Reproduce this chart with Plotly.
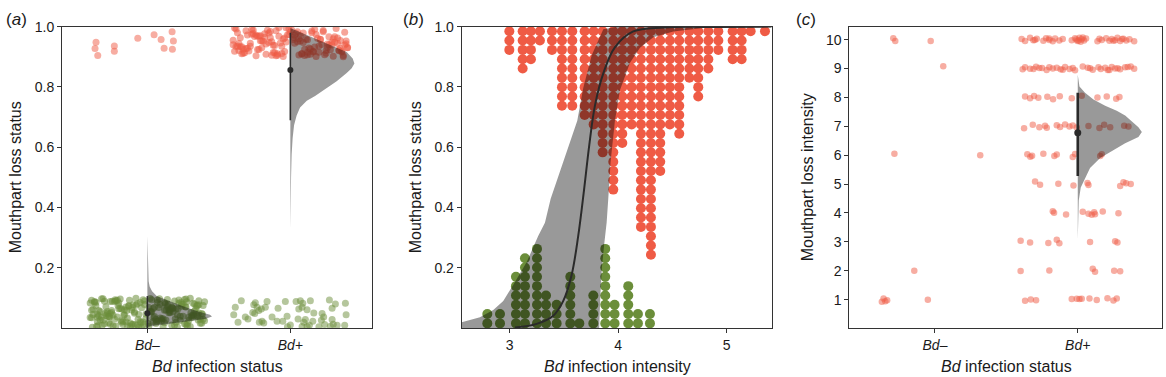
import plotly.graph_objects as go

FONT = "Liberation Sans, Arial, Helvetica, sans-serif"
RED = "#EF5B45"
GREEN = "#6B8E3A"
SHADE = "rgba(0,0,0,0.4)"
INK = "#2a2a2a"
AXIS = "#333333"

# ---------------- categories / ticks ----------------
cat_pos = [1, 2]
cat_text = ["<i>Bd–</i>", "<i>Bd+</i>"]
status_ticks = [0.2, 0.4, 0.6, 0.8, 1.0]
status_ticktext = ["0.2", "0.4", "0.6", "0.8", "1.0"]
intensity_ticks = [3, 4, 5]
loss_ticks = [1, 2, 3, 4, 5, 6, 7, 8, 9, 10]

# ---------------- panel (a) data ----------------
# Bd- uninfected, no mouthpart loss (green), jitter offsets around category 1
a_neg_green_dx = [-0.38, 0.12, -0.05, 0.31, -0.22, 0.07, 0.39, -0.29, 0.18, -0.11, 0.25, -0.35, 0.02, -0.17, 0.34,
                  -0.01, 0.21, -0.26, 0.09, -0.39, 0.28, -0.08, 0.15, -0.31, 0.36, -0.14, 0.05, -0.24, 0.22, -0.03,
                  0.33, -0.19, 0.11, -0.36, 0.27, -0.09, 0.40, -0.27, 0.16, -0.12, 0.03, -0.33, 0.24, -0.06, 0.37,
                  -0.20, 0.13, -0.40, 0.30, -0.15, 0.08, -0.25, 0.19, -0.02, 0.35, -0.30, 0.10, -0.18, 0.26, -0.07,
                  0.38, -0.23, 0.14, -0.34, 0.01, -0.13, 0.29, -0.37, 0.20, -0.04, 0.32, -0.21, 0.06, -0.28, 0.17,
                  -0.10, 0.23, -0.32, 0.04, -0.16, 0.36, -0.26, 0.12, -0.39, 0.27, -0.06, 0.19, -0.35, 0.08, -0.19,
                  0.33, -0.12, 0.02, -0.29, 0.22, -0.01, 0.39, -0.24, 0.15, -0.37, 0.29, -0.09, 0.06, -0.31, 0.25,
                  -0.15, 0.11, -0.40, 0.34, -0.05, 0.18, -0.22, 0.31, -0.17, 0.09, -0.33, 0.37, -0.03, 0.21, -0.27,
                  0.14, -0.11, 0.28, -0.36, 0.05, -0.20, 0.40, -0.08, 0.16, -0.30, 0.24, -0.14, 0.01, -0.38, 0.30,
                  -0.02, 0.13, -0.25, 0.35, -0.18, 0.07, -0.34, 0.20, -0.07, 0.26, -0.28, 0.10, -0.13, 0.38, -0.23,
                  0.03, -0.32, 0.17, -0.04, 0.32, -0.16, 0.23, -0.39, 0.12, -0.10, 0.36, -0.21, 0.04, -0.35, 0.27,
                  -0.26, -0.315, 0.045, 0.265, -0.085, 0.155, -0.245, 0.355, -0.165, 0.085, -0.355, 0.215, -0.045,
                  0.125, -0.275, 0.305, -0.125, 0.005, -0.205, 0.385, -0.065, 0.175, -0.385, 0.235, -0.145, 0.065,
                  -0.225, 0.325, -0.025, 0.145, -0.295, 0.195, -0.105, 0.275, -0.345, 0.025, -0.185, 0.345, -0.265]
a_neg_green_y = [0.062, 0.018, 0.085, 0.041, 0.007, 0.093, 0.029, 0.071, 0.054, 0.012, 0.079, 0.036, 0.098, 0.023,
                 0.066, 0.047, 0.004, 0.088, 0.033, 0.059, 0.015, 0.076, 0.051, 0.026, 0.091, 0.008, 0.069, 0.043,
                 0.082, 0.020, 0.057, 0.096, 0.031, 0.074, 0.011, 0.049, 0.087, 0.038, 0.064, 0.005, 0.094, 0.027,
                 0.072, 0.045, 0.016, 0.083, 0.060, 0.035, 0.099, 0.021, 0.068, 0.052, 0.009, 0.078, 0.040, 0.089,
                 0.025, 0.063, 0.014, 0.081, 0.048, 0.030, 0.095, 0.058, 0.006, 0.073, 0.037, 0.086, 0.019, 0.067,
                 0.044, 0.092, 0.028, 0.055, 0.010, 0.077, 0.039, 0.097, 0.022, 0.061, 0.050, 0.013, 0.084, 0.034,
                 0.070, 0.003, 0.090, 0.046, 0.024, 0.065, 0.080, 0.017, 0.056, 0.042, 0.093, 0.032, 0.075, 0.008,
                 0.061, 0.088, 0.026, 0.053, 0.015, 0.097, 0.039, 0.070, 0.004, 0.083, 0.047, 0.022, 0.066, 0.091,
                 0.035, 0.012, 0.078, 0.055, 0.029, 0.094, 0.043, 0.018, 0.072, 0.060, 0.007, 0.086, 0.038, 0.064,
                 0.024, 0.099, 0.051, 0.014, 0.080, 0.033, 0.068, 0.045, 0.005, 0.090, 0.027, 0.058, 0.076, 0.019,
                 0.085, 0.041, 0.063, 0.010, 0.095, 0.049, 0.031, 0.074, 0.016, 0.088, 0.054, 0.036, 0.069, 0.002,
                 0.082, 0.044, 0.025, 0.092, 0.059, 0.013, 0.077, 0.037, 0.065, 0.021, 0.096, 0.048, 0.009,
                 0.034, 0.071, 0.011, 0.056, 0.089, 0.027, 0.043, 0.097, 0.006, 0.064, 0.018, 0.081, 0.039, 0.052,
                 0.092, 0.015, 0.075, 0.046, 0.029, 0.067, 0.003, 0.086, 0.058, 0.022, 0.094, 0.041, 0.012, 0.079,
                 0.049, 0.031, 0.068, 0.087, 0.008, 0.053, 0.024, 0.073, 0.037, 0.095]
# Bd+ infected, no mouthpart loss (green), offsets around category 2
a_pos_green_dx = [-0.343, -0.385, -0.396, -0.366, -0.315, -0.296, -0.256, -0.245, -0.233, -0.221, -0.263, -0.249,
                  -0.203, -0.175, -0.163, -0.217, -0.198, -0.186, -0.128, -0.093, -0.086, -0.053, -0.035, -0.023,
                  0.040, 0.070, 0.087, 0.082, 0.059, 0.117, 0.140, 0.105, 0.054, 0.094, 0.133, 0.157, 0.164, 0.222,
                  0.233, 0.217, 0.273, 0.292, 0.315, 0.292, 0.327, 0.385, 0.390, 0.380, 0.117, 0.082, 0.280, 0.200,
                  0.240, -0.020, 0.000, 0.300]
a_pos_green_y = [0.091, 0.069, 0.044, 0.019, 0.037, 0.030, 0.077, 0.084, 0.069, 0.058, 0.052, 0.048, 0.063, 0.069,
                 0.088, 0.019, 0.023, 0.017, 0.037, 0.023, 0.066, 0.023, 0.088, 0.039, 0.088, 0.091, 0.082, 0.069,
                 0.063, 0.061, 0.091, 0.028, 0.030, 0.019, 0.009, 0.023, 0.050, 0.048, 0.037, 0.026, 0.093, 0.066,
                 0.080, 0.028, 0.009, 0.082, 0.044, 0.009, 0.005, 0.005, 0.006, 0.004, 0.012, 0.004, 0.010, 0.013]
# Bd+ infected, mouthpart loss (red), offsets around category 2
a_pos_red_dx = [0.21, -0.33, 0.05, -0.12, 0.37, -0.24, 0.14, -0.39, 0.29, -0.04, 0.09, -0.28, 0.33, -0.17, 0.01,
                -0.36, 0.25, -0.08, 0.18, -0.21, 0.40, -0.31, 0.12, -0.01, 0.27, -0.14, 0.06, -0.38, 0.35, -0.19,
                0.16, -0.26, 0.03, -0.10, 0.31, -0.35, 0.23, -0.06, 0.11, -0.23, 0.38, -0.15, 0.08, -0.30, 0.20,
                -0.03, 0.34, -0.40, 0.13, -0.18, 0.26, -0.09, 0.02, -0.27, 0.36, -0.13, 0.17, -0.37, 0.30, -0.05,
                0.10, -0.22, 0.39, -0.32, 0.15, -0.11, 0.24, -0.02, 0.07, -0.29, 0.32, -0.20, 0.19, -0.34, 0.04,
                -0.07, 0.28, -0.16, 0.12, -0.38, 0.37, -0.25, 0.22, -0.12, 0.00, -0.31, 0.35, -0.08, 0.14, -0.21,
                0.29, -0.36, 0.06, -0.14, 0.25, -0.03, 0.40, -0.27, 0.10, -0.18, 0.33, -0.39, 0.17, -0.06, 0.21,
                -0.24, 0.03, -0.33, 0.31, -0.10, 0.08, -0.20, 0.38, -0.15, 0.16, -0.35, 0.26, -0.01, 0.12, -0.28,
                0.34, -0.23, 0.05, -0.11, 0.23, -0.37, 0.30, -0.05, 0.18, -0.30, 0.02, -0.17, 0.36, -0.26, 0.09,
                -0.09, 0.27, -0.34, 0.15, -0.13, 0.39, -0.22, 0.07, -0.40, 0.20, -0.04]
a_pos_red_y = [0.957, 0.912, 0.983, 0.938, 0.904, 0.971, 0.926, 0.995, 0.948, 0.917, 0.979, 0.935, 0.962, 0.908,
               0.989, 0.944, 0.921, 0.968, 0.901, 0.953, 0.931, 0.986, 0.915, 0.974, 0.940, 0.963, 0.906, 0.992,
               0.928, 0.951, 0.918, 0.977, 0.945, 0.903, 0.966, 0.933, 0.987, 0.911, 0.958, 0.924, 0.981, 0.947,
               0.909, 0.972, 0.936, 0.996, 0.920, 0.955, 0.929, 0.976, 0.942, 0.905, 0.964, 0.990, 0.916, 0.950,
               0.932, 0.980, 0.902, 0.959, 0.925, 0.969, 0.943, 0.913, 0.985, 0.937, 0.907, 0.973, 0.952, 0.919,
               0.994, 0.930, 0.961, 0.910, 0.978, 0.946, 0.923, 0.988, 0.956, 0.934, 0.900, 0.967, 0.941, 0.914,
               0.982, 0.927, 0.954, 0.997, 0.908, 0.970, 0.939, 0.921, 0.960, 0.984, 0.912, 0.949, 0.930, 0.975,
               0.904, 0.965, 0.944, 0.918, 0.991, 0.935, 0.958, 0.903, 0.971, 0.926, 0.948, 0.986, 0.911, 0.953,
               0.939, 0.979, 0.916, 0.963, 0.931, 0.993, 0.907, 0.945, 0.922, 0.968, 0.950, 0.914, 0.983, 0.936,
               0.960, 0.901, 0.974, 0.928, 0.957, 0.942, 0.919, 0.988, 0.947, 0.910, 0.966, 0.933, 0.980, 0.905,
               0.952, 0.924, 0.970, 0.940, 0.915, 0.962, 0.984, 0.929, 0.955]
# Bd- uninfected with mouthpart loss (red)
a_neg_red_x = [0.641, 0.634, 0.653, 0.769, 0.769, 0.933, 1.047, 1.096, 1.117, 1.173, 1.182, 1.175]
a_neg_red_y = [0.948, 0.927, 0.904, 0.936, 0.918, 0.961, 0.973, 0.957, 0.928, 0.983, 0.952, 0.925]

# posterior densities (half violins): y value and half-width in category units
a_pos_vio_y = [0.995, 0.954, 0.916, 0.894, 0.878, 0.862, 0.846, 0.819, 0.792, 0.770, 0.754, 0.732, 0.705, 0.673,
               0.630, 0.576, 0.500, 0.414, 0.327]
a_pos_vio_w = [0.000, 0.205, 0.394, 0.436, 0.448, 0.429, 0.394, 0.324, 0.243, 0.173, 0.115, 0.068, 0.044, 0.026,
               0.016, 0.009, 0.005, 0.002, 0.000]
a_neg_vio_y = [0.306, 0.241, 0.198, 0.155, 0.138, 0.122, 0.106, 0.090, 0.074, 0.057, 0.044, 0.038, 0.030, 0.022,
               0.014, 0.008, 0.004]
a_neg_vio_w = [0.000, 0.002, 0.005, 0.009, 0.016, 0.033, 0.065, 0.147, 0.240, 0.345, 0.438, 0.452, 0.403, 0.275,
               0.135, 0.042, 0.000]
a_est = [0.049, 0.856]
a_lo = [0.000, 0.689]
a_hi = [0.106, 0.980]

# ---------------- panel (b) data ----------------
b_red_x = [2.997, 3.120, 3.196, 3.279, 3.390, 3.482, 3.577, 3.691, 3.774, 3.857, 3.955, 4.038, 4.124, 4.210,
           4.302, 4.388, 4.477, 4.563, 4.656, 4.738, 4.831, 4.923, 5.055, 5.138, 5.221, 5.353]
b_red_n = [3, 5, 4, 2, 3, 9, 9, 10, 11, 14, 18, 13, 11, 22, 25, 16, 11, 12, 6, 8, 5, 3, 4, 4, 1, 1]
b_green_x = [2.794, 2.911, 3.058, 3.141, 3.252, 3.335, 3.433, 3.559, 3.642, 3.771, 3.881, 3.967, 4.093, 4.182,
             4.293]
b_green_n = [2, 2, 6, 8, 9, 4, 3, 6, 1, 4, 9, 3, 5, 2, 2]
b_dot_step = 0.0309

b_curve_x = [3.05, 3.249, 3.402, 3.494, 3.571, 3.632, 3.685, 3.734, 3.786, 3.863, 3.971, 4.139, 4.416, 4.9, 5.415]
b_curve_y = [0.002, 0.014, 0.041, 0.090, 0.176, 0.306, 0.457, 0.608, 0.738, 0.845, 0.932, 0.984, 0.997, 0.999, 1.0]
b_band_up_x = [2.558, 2.726, 2.849, 2.941, 3.034, 3.157, 3.264, 3.325, 3.378, 3.525, 3.623, 3.678, 3.756, 3.863,
               4.0, 5.415]
b_band_up_y = [0.0195, 0.036, 0.060, 0.090, 0.144, 0.219, 0.306, 0.349, 0.429, 0.580, 0.688, 0.796, 0.905, 0.991,
               1.0, 1.0]
b_band_lo_x = [2.558, 3.60, 3.825, 3.835, 3.85, 3.872, 3.894, 3.909, 3.93, 3.97, 4.017, 4.109, 4.201, 4.324, 4.508,
               4.784, 5.415]
b_band_lo_y = [0.0, 0.0, 0.0, 0.10, 0.20, 0.28, 0.35, 0.43, 0.55, 0.688, 0.79, 0.88, 0.93, 0.965, 0.984, 0.995,
               0.999]

# ---------------- panel (c) data ----------------
c_neg_x = [0.708, 0.722, 0.970, 1.058, 0.716, 1.317, 0.855, 0.950, 0.628, 0.640, 0.652, 0.665]
c_neg_y = [10.05, 9.95, 9.95, 9.08, 6.05, 6.00, 2.00, 1.00, 0.93, 1.04, 0.95, 0.98]
c_pos_dx = [
    # loss 10
    -0.393, -0.369, -0.334, -0.311, -0.287, -0.241, -0.222, -0.199, -0.175, -0.159, -0.129, -0.105, -0.042, -0.019,
    -0.002, 0.012, 0.028, 0.044, 0.058, 0.138, 0.152, 0.168, 0.199, 0.222, 0.238, 0.262, 0.278, 0.297, 0.320,
    0.339, 0.362, 0.395, -0.010, 0.020, 0.035, -0.300, 0.310, 0.250, -0.200, 0.005,
    # loss 9
    -0.386, -0.369, -0.334, -0.292, -0.269, -0.218, -0.199, -0.175, -0.147, -0.105, -0.089, -0.058, -0.035, -0.019,
    0.035, 0.086, 0.105, 0.145, 0.161, 0.192, 0.222, 0.238, 0.262, 0.297, 0.332, 0.371, 0.395, -0.250, -0.120,
    0.070, 0.210, 0.280, 0.350, -0.310,
    # loss 8
    -0.369, -0.334, -0.306, -0.276, -0.213, -0.173, -0.126, -0.042, 0.028, 0.138, 0.203, 0.269, 0.292,
    # loss 7
    -0.376, -0.315, -0.269, -0.229, -0.217, -0.147, -0.124, -0.089, -0.058, -0.035, -0.007, 0.075, 0.152, 0.185,
    0.227, 0.325, 0.355,
    # loss 6
    -0.353, -0.332, -0.320, -0.241, -0.164, -0.147, -0.035, -0.019, 0.157, 0.168,
    # loss 5
    -0.299, -0.264, -0.136, -0.030, 0.068, 0.075, 0.297, 0.320, 0.339, 0.371,
    # loss 4
    -0.175, -0.166, -0.082, 0.035, 0.075, 0.098, 0.115, 0.121, 0.175, 0.285,
    # loss 3
    -0.400, -0.334, -0.206, -0.147, -0.129, 0.086, 0.262, 0.278,
    # loss 2
    -0.400, -0.199, 0.105, 0.121, 0.255, 0.297,
    # loss 1
    -0.369, -0.329, -0.292, -0.042, -0.007, 0.012, 0.028, 0.082, 0.133, 0.208, 0.250, 0.273,
]
c_pos_y = [
    10.02, 9.95, 10.06, 9.98, 10.03, 9.96, 10.05, 9.99, 9.94, 10.04, 9.97, 10.02, 9.98, 10.05, 9.95, 10.06, 10.01,
    9.97, 10.04, 9.94, 10.03, 9.99, 10.05, 9.96, 10.02, 9.98, 10.06, 9.95, 10.03, 9.97, 10.01, 9.94, 10.00, 9.93,
    10.07, 9.99, 10.02, 9.96, 10.04, 9.97,
    8.97, 9.04, 8.99, 9.06, 9.02, 8.95, 9.04, 9.00, 9.03, 8.96, 9.05, 8.98, 9.02, 8.94, 9.07, 9.01, 8.96, 9.04,
    8.98, 9.03, 8.95, 9.05, 9.00, 8.97, 9.04, 9.07, 8.99, 9.02, 8.97, 9.03, 8.95, 9.01, 9.05, 8.98,
    8.03, 7.97, 8.05, 7.99, 8.02, 7.94, 8.04, 7.97, 8.06, 8.00, 8.03, 7.95, 8.01,
    6.93, 7.05, 6.97, 7.02, 6.95, 7.04, 6.98, 7.06, 6.99, 7.03, 6.96, 7.01, 6.94, 7.05, 6.97, 7.02, 6.99,
    6.03, 5.95, 5.98, 6.05, 5.97, 6.02, 5.94, 6.04, 5.97, 6.03,
    5.09, 4.98, 5.01, 4.95, 5.04, 4.97, 4.93, 5.06, 5.03, 5.00,
    4.06, 4.01, 3.95, 4.04, 3.97, 3.94, 4.03, 3.96, 4.05, 3.99,
    3.04, 2.98, 2.96, 3.07, 2.95, 3.00, 3.02, 2.98,
    1.99, 2.01, 2.07, 1.97, 2.00, 1.98,
    0.96, 1.01, 0.98, 1.02, 1.03, 1.02, 1.03, 1.04, 0.99, 1.05, 0.97, 1.04,
]
c_pos_vio_y = [8.78, 8.38, 8.16, 7.93, 7.71, 7.54, 7.37, 7.14, 6.97, 6.80, 6.63, 6.41, 6.18, 5.90, 5.56, 5.22,
               4.88, 4.43, 3.87, 3.08]
c_pos_vio_w = [0.000, 0.012, 0.051, 0.110, 0.192, 0.273, 0.332, 0.390, 0.425, 0.449, 0.425, 0.332, 0.250, 0.157,
               0.086, 0.051, 0.021, 0.007, 0.002, 0.000]
c_est = 6.78
c_lo = 5.28
c_hi = 8.16

# ---------------- build figure ----------------
fig = go.Figure()


def pts(xs, ys, color, size, opacity, ax):
    fig.add_trace(go.Scatter(x=xs, y=ys, mode="markers", xaxis="x" + ax, yaxis="y" + ax,
                             marker=dict(color=color, size=size, opacity=opacity, line=dict(width=0)),
                             hoverinfo="skip", showlegend=False))


def half_violin(center, vy, vw, ax):
    xs = [center + w for w in vw] + [center, center]
    ys = list(vy) + [vy[-1], vy[0]]
    fig.add_trace(go.Scatter(x=xs, y=ys, mode="lines", fill="toself", fillcolor=SHADE,
                             line=dict(width=0), xaxis="x" + ax, yaxis="y" + ax,
                             hoverinfo="skip", showlegend=False))


def interval(center, lo, hi, est, width, msize, ax):
    fig.add_trace(go.Scatter(x=[center, center], y=[lo, hi], mode="lines", line=dict(color=INK, width=width),
                             xaxis="x" + ax, yaxis="y" + ax, hoverinfo="skip", showlegend=False))
    fig.add_trace(go.Scatter(x=[center], y=[est], mode="markers", marker=dict(color=INK, size=msize),
                             xaxis="x" + ax, yaxis="y" + ax, hoverinfo="skip", showlegend=False))


n_ng = min(len(a_neg_green_dx), len(a_neg_green_y))
n_pr = min(len(a_pos_red_dx), len(a_pos_red_y))

# panel a
pts([cat_pos[0] + d for d in a_neg_green_dx[:n_ng]], a_neg_green_y[:n_ng], GREEN, 7, 0.55, "")
pts([cat_pos[1] + d for d in a_pos_green_dx], a_pos_green_y, GREEN, 7, 0.5, "")
pts([cat_pos[1] + d for d in a_pos_red_dx[:n_pr]], a_pos_red_y[:n_pr], RED, 7, 0.55, "")
pts(a_neg_red_x, a_neg_red_y, RED, 7, 0.5, "")
half_violin(cat_pos[0], a_neg_vio_y, a_neg_vio_w, "")
half_violin(cat_pos[1], a_pos_vio_y, a_pos_vio_w, "")
for i in range(2):
    interval(cat_pos[i], a_lo[i], a_hi[i], a_est[i], 1.6, 6, "")

# panel b: stacked dot plot
bxr, byr = [], []
for x, n in zip(b_red_x, b_red_n):
    for k in range(n):
        bxr.append(x)
        byr.append(1 - (k + 0.5) * b_dot_step)
bxg, byg = [], []
for x, n in zip(b_green_x, b_green_n):
    for k in range(n):
        bxg.append(x)
        byg.append((k + 0.5) * b_dot_step)
pts(bxr, byr, RED, 10, 1, "2")
pts(bxg, byg, GREEN, 10, 1, "2")
fig.add_trace(go.Scatter(x=b_band_up_x + b_band_lo_x[::-1], y=b_band_up_y + b_band_lo_y[::-1],
                         mode="lines", fill="toself", fillcolor=SHADE, line=dict(width=0),
                         xaxis="x2", yaxis="y2", hoverinfo="skip", showlegend=False))
fig.add_trace(go.Scatter(x=b_curve_x, y=b_curve_y, mode="lines", line=dict(color=INK, width=2, shape="spline"),
                         xaxis="x2", yaxis="y2", hoverinfo="skip", showlegend=False))

# panel c
pts(c_neg_x, c_neg_y, RED, 6.5, 0.5, "3")
pts([cat_pos[1] + d for d in c_pos_dx], c_pos_y, RED, 6.5, 0.5, "3")
half_violin(cat_pos[1], c_pos_vio_y, c_pos_vio_w, "3")
interval(cat_pos[1], c_lo, c_hi, c_est, 2.6, 7, "3")

W, H = 1166, 377


def dom_x(l, r):
    return [l / W, r / W]


ydom = [1 - 327 / H, 1 - 19 / H]
axis_common = dict(showline=True, mirror=True, linecolor=AXIS, linewidth=1, ticks="outside", ticklen=4,
                   tickwidth=1, tickcolor=AXIS, showgrid=False, zeroline=False,
                   tickfont=dict(family=FONT, size=14, color="#1a1a1a"))

fig.update_layout(
    width=W, height=H, autosize=False, margin=dict(l=0, r=0, t=0, b=0, pad=0),
    plot_bgcolor="white", paper_bgcolor="white", showlegend=False,
    xaxis=dict(domain=dom_x(62, 372), range=[0.403, 2.571], tickvals=cat_pos, ticktext=cat_text, anchor="y",
               **axis_common),
    yaxis=dict(domain=ydom, range=[0, 1], tickvals=status_ticks, ticktext=status_ticktext, anchor="x",
               **axis_common),
    xaxis2=dict(domain=dom_x(461.7, 771.7), range=[2.558, 5.415], tickvals=intensity_ticks, anchor="y2",
                **axis_common),
    yaxis2=dict(domain=ydom, range=[0, 1], tickvals=status_ticks, ticktext=status_ticktext, anchor="x2",
                **axis_common),
    xaxis3=dict(domain=dom_x(849.3, 1162), range=[0.4, 2.59], tickvals=cat_pos, ticktext=cat_text, anchor="y3",
                **axis_common),
    yaxis3=dict(domain=ydom, range=[0.018, 10.45], tickvals=loss_ticks, anchor="x3", **axis_common),
)


def ann(text, px, py, size, angle=0):
    fig.add_annotation(text=text, x=px / W, y=1 - py / H, xref="paper", yref="paper", showarrow=False,
                       textangle=angle, font=dict(family=FONT, size=size, color="#1a1a1a"),
                       xanchor="center", yanchor="middle")


ann("(<i>a</i>)", 16, 12, 17)
ann("(<i>b</i>)", 413, 12, 17)
ann("(<i>c</i>)", 806, 12, 17)
ann("Mouthpart loss status", 15, 173, 16, -90)
ann("Mouthpart loss status", 415, 173, 16, -90)
ann("Mouthpart loss intensity", 807, 173, 16, -90)
ann("<i>Bd</i> infection status", 217, 366, 16)
ann("<i>Bd</i> infection intensity", 617, 366, 16)
ann("<i>Bd</i> infection status", 1006, 366, 16)

fig.write_html("out.html", config={"displayModeBar": False, "staticPlot": True},
               post_script="document.body.style.margin='0';document.body.style.padding='0';"
                           "document.documentElement.style.overflow='hidden';")
